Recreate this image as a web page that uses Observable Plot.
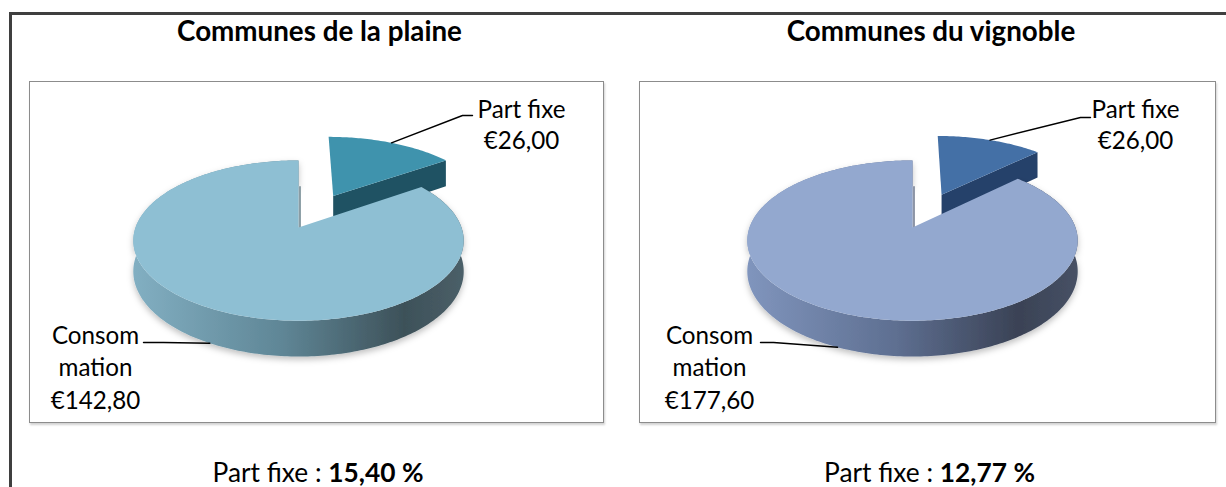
<!DOCTYPE html>
<html><head><meta charset="utf-8">
<script src="https://cdn.jsdelivr.net/npm/d3@7"></script>
<script src="https://cdn.jsdelivr.net/npm/@observablehq/plot@0.6"></script>
<style>
html,body{margin:0;padding:0;background:#fff;}
#page{position:relative;width:1226px;height:487px;overflow:hidden;background:#fff;font-family:Lato,"Open Sans",sans-serif;color:#000;}
.hline{position:absolute;left:9px;top:12px;width:1217px;height:3px;background:#3f3f3f;}
.vline{position:absolute;left:9px;top:12px;width:3px;height:475px;background:#3f3f3f;}
.box{position:absolute;border:1.5px solid #8c8c8c;box-shadow:1px 2px 2px rgba(0,0,0,0.18);box-sizing:border-box;}
.txt{position:absolute;white-space:nowrap;line-height:1;transform:translateX(-50%);}
.plotwrap{position:absolute;}
</style></head><body><div id="page"></div>
<script>
// ---- data ----
const panelTitles = ["Communes de la plaine", "Communes du vignoble"];
const categories = ["Part fixe", "Consommation"];
const categoryLabels = ["Part fixe", "Consom\nmation"];
const plaineValues = [26.00, 142.80];
const vignobleValues = [26.00, 177.60];
const footLabel = "Part fixe : ";

// ---- layout / style ----
const FONT = "Lato";
const panels = [
  {title: panelTitles[0], values: plaineValues, boxLeft: 29, boxW: 575, cx: 269, center: 319.5,
   partLabelX: 492, consLabelX: 66, partElbow: [[443, 34], [433, 34]], consElbow: [[114, 261], [134, 261]],
   colors: {main: "#8ebfd3", part: "#3f93ad", cut: "#1f5263", gap: "#8a9ca4",
            wall: [[0, "#82afc2"], [0.45, "#5f8696"], [0.82, "#3d5159"], [1, "#4b5f68"]]}},
  {title: panelTitles[1], values: vignobleValues, boxLeft: 639, boxW: 577, cx: 273, center: 931,
   partLabelX: 496, consLabelX: 70, partElbow: [[451, 36], [441, 36]], consElbow: [[121, 261], [134, 261]],
   colors: {main: "#93a8cf", part: "#4470a6", cut: "#25416a", gap: "#8d95a6",
            wall: [[0, "#8095bd"], [0.45, "#5e6f91"], [0.82, "#3a4255"], [1, "#475165"]]}}
];
const BOX_TOP = 81, BOX_H = 342;

const page = document.getElementById("page");
page.insertAdjacentHTML("beforeend", '<div class="hline"></div><div class="vline"></div>');

const ctx = document.createElement("canvas").getContext("2d");
function textWidth(t, weight, size) { ctx.font = `${weight} ${size}px ${FONT}`; return ctx.measureText(t).width; }
function fitSize(t, weight, target) { return 100 * target / textWidth(t, weight, 100); }
const ASC = 0.887; // baseline offset (em) for line-height:1

const fmtEuro = v => "€" + v.toFixed(2).replace(".", ",");
const fmtPct = v => v.toFixed(2).replace(".", ",") + " %";

const titleSize = fitSize(panelTitles[0], "bold", 285);
const labelSize = fitSize("Part fixe", "normal", 88);

panels.forEach((p, pi) => {
  const total = d3.sum(p.values);
  const pct = p.values[0] / total * 100;

  // title
  const t = document.createElement("div");
  t.className = "txt";
  t.style.fontWeight = "bold";
  t.style.fontSize = titleSize + "px";
  t.style.left = p.center + "px";
  t.style.top = (42 - ASC * titleSize) + "px";
  t.textContent = p.title;
  page.appendChild(t);

  // footer
  const footBold = fmtPct(pct);
  const wFoot = textWidth(footLabel, "normal", 100) + textWidth(footBold, "bold", 100);
  const footSize = 100 * 211 / wFoot;
  const f = document.createElement("div");
  f.className = "txt";
  f.style.fontSize = footSize + "px";
  f.style.left = (p.center - 1.5) + "px";
  f.style.top = (482 - ASC * footSize) + "px";
  f.innerHTML = footLabel + "<b>" + footBold + "</b>";
  page.appendChild(f);

  // box
  const box = document.createElement("div");
  box.className = "box";
  Object.assign(box.style, {left: p.boxLeft + "px", top: BOX_TOP + "px", width: p.boxW + "px", height: BOX_H + "px"});
  page.appendChild(box);

  // pie geometry (perspective-projected 3D pie)
  const W = p.boxW, H = BOX_H;
  const K = 0.163, A = 78, B = 163, D = 30, E = 0.49, cy = 146, cx = p.cx;
  const proj = (u, v, z) => { const s = 1 / (1 + K * v); return {x: cx + B * u * s, y: cy + (-A * v + z * D) * s}; };
  const arcs = d3.pie().sort(null).value(d => d)(p.values);
  const arcPts = (a0, a1, ox, oy, z) => {
    const n = Math.max(8, Math.ceil((a1 - a0) / (Math.PI / 180)));
    return d3.range(n + 1).map(i => { const a = a0 + (a1 - a0) * i / n; return proj(ox + Math.sin(a), oy + Math.cos(a), z); });
  };
  // Part fixe (exploded)
  const pa = arcs[0], pMid = (pa.startAngle + pa.endAngle) / 2;
  const ox = E * Math.sin(pMid), oy = E * Math.cos(pMid);
  const partTop = [proj(ox, oy, 0), ...arcPts(pa.startAngle, pa.endAngle, ox, oy, 0)];
  const partCut = [proj(ox, oy, 0), proj(ox + Math.sin(pa.endAngle), oy + Math.cos(pa.endAngle), 0),
                   proj(ox + Math.sin(pa.endAngle), oy + Math.cos(pa.endAngle), 1), proj(ox, oy, 1)];
  // Consommation
  const ma = arcs[1], mMid = (ma.startAngle + ma.endAngle) / 2;
  const mainTop = [proj(0, 0, 0), ...arcPts(ma.startAngle, ma.endAngle, 0, 0, 0)];
  const mainWall = [...arcPts(ma.startAngle, ma.endAngle, 0, 0, 0), ...arcPts(ma.startAngle, ma.endAngle, 0, 0, 1).reverse()];
  // edge-on cut face of Consommation seen in the gap
  const e0 = proj(Math.sin(ma.endAngle), Math.cos(ma.endAngle), 1), c0 = proj(0, 0, 0);
  const gapEdge = [{x: c0.x + 1.2, y: c0.y + 3}, {x: e0.x + 1.2, y: e0.y}];

  const partAnchor = proj(ox + Math.sin(pMid), oy + Math.cos(pMid), 0);
  const mainAnchor = proj(Math.sin(mMid), Math.cos(mMid), 1);
  const partLeader = [partAnchor, ...p.partElbow.slice().reverse().map(([x, y]) => ({x, y}))];
  const consLeader = [...p.consElbow.map(([x, y]) => ({x, y})), mainAnchor];

  const labels = [
    {x: p.partLabelX, y: 67, text: categoryLabels[0] + "\n" + fmtEuro(p.values[0]), lh: 31},
    {x: p.consLabelX, y: 327, text: categoryLabels[1] + "\n" + fmtEuro(p.values[1]), lh: 32.5}
  ];

  const gid = "wallGrad" + pi, fid = "shadow" + pi;
  const poly = (pts, fill) => Plot.line(pts, {x: "x", y: "y", fill, curve: "linear-closed"});

  const svg = Plot.plot({
    width: W, height: H, margin: 0,
    x: {domain: [0, W], range: [0, W], axis: null},
    y: {domain: [0, H], range: [0, H], axis: null},
    style: {background: "transparent", overflow: "visible"},
    marks: [
      poly(partCut, p.colors.cut),
      poly(partTop, p.colors.part),
      poly(mainWall, `url(#${gid})`),
      Plot.line(gapEdge, {x: "x", y: "y", stroke: p.colors.gap, strokeWidth: 2.5, strokeLinecap: "butt"}),
      poly(mainTop, p.colors.main),
      Plot.line(partLeader, {x: "x", y: "y", stroke: "#000", strokeWidth: 1.4}),
      Plot.line(consLeader, {x: "x", y: "y", stroke: "#000", strokeWidth: 1.4}),
      ...labels.map(l => Plot.text([l], {x: "x", y: "y", text: "text", fontSize: labelSize, fontFamily: FONT,
        lineAnchor: "bottom", lineHeight: l.lh / labelSize, textAnchor: "middle", fill: "#000"}))
    ]
  });
  const defs = d3.select(svg).insert("defs", ":first-child");
  const g = defs.append("linearGradient").attr("id", gid).attr("x1", 0).attr("x2", 1).attr("y1", 0).attr("y2", 0);
  p.colors.wall.forEach(([o, c]) => g.append("stop").attr("offset", o).attr("stop-color", c));
  const flt = defs.append("filter").attr("id", fid).attr("x", "-10%").attr("y", "-20%").attr("width", "120%").attr("height", "160%");
  flt.append("feDropShadow").attr("dx", 0).attr("dy", 3).attr("stdDeviation", 3).attr("flood-color", "#000").attr("flood-opacity", 0.25);
  d3.select(svg).selectAll("g").filter(function() { return this.getAttribute("fill") === `url(#${gid})`; }).attr("filter", `url(#${fid})`);

  const wrap = document.createElement("div");
  wrap.className = "plotwrap";
  Object.assign(wrap.style, {left: p.boxLeft + "px", top: BOX_TOP + "px", width: W + "px", height: H + "px"});
  wrap.appendChild(svg);
  page.appendChild(wrap);
});
</script></body></html>
